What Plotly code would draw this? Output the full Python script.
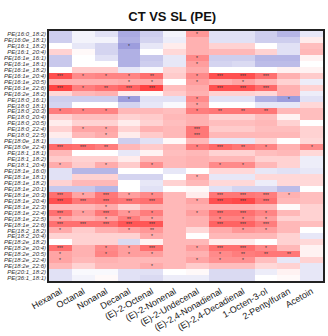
import plotly.graph_objects as go

# Volatile compounds (columns) and PE lipid species (rows)
compounds = ["Hexanal", "Octanal", "Nonanal", "Decanal", "(E)-2-Octenal",
             "(E)-2-Nonenal", "(E)-2-Undecenal", "(E)-2,4-Nonadienal",
             "(E)-2,4-Decadienal", "1-Octen-3-ol", "2-Pentylfuran", "Acetoin"]

lipids = ["PE(16:0_18:2)", "PE(16:0e_18:1)", "PE(16:1_18:2)", "PE(16:1_20:4)",
          "PE(16:1e_16:1)", "PE(16:1e_18:1)", "PE(16:1e_18:2)", "PE(16:1e_20:4)",
          "PE(16:1e_20:5)", "PE(16:1e_22:6)", "PE(16:2e_18:2)", "PE(18:0_16:1)",
          "PE(18:0_18:1)", "PE(18:0_20:3)", "PE(18:0_20:4)", "PE(18:0_20:5)",
          "PE(18:0_22:4)", "PE(18:0_22:5)", "PE(18:0e_18:1)", "PE(18:0e_22:4)",
          "PE(18:1_18:1)", "PE(18:1_18:2)", "PE(18:1_20:4)", "PE(18:1e_16:0)",
          "PE(18:1e_18:1)", "PE(18:1e_18:2)", "PE(18:1e_20:1)", "PE(18:1e_20:3)",
          "PE(18:1e_20:4)", "PE(18:1e_22:3)", "PE(18:1e_22:4)", "PE(18:1e_22:5)",
          "PE(18:1e_22:6)", "PE(18:2_18:2)", "PE(18:2_20:4)", "PE(18:2e_18:2)",
          "PE(18:2e_20:4)", "PE(18:2e_20:5)", "PE(18:2e_22:4)", "PE(18:2e_22:6)",
          "PE(20:1_18:2)", "PE(36:1_18:1)"]

# Correlation coefficients, one row per lipid
corr = [
    [-0.40, -0.10, -0.25, -0.70, -0.40, -0.10, 0.80, -0.25, -0.25, -0.40, -0.60, -0.20],
    [-0.40, -0.10, -0.10, -0.65, -0.35, -0.15, 0.60, -0.25, -0.25, -0.40, -0.40, 0.15],
    [0.00, -0.20, -0.35, -0.80, -0.20, 0.15, 0.60, 0.35, 0.35, 0.00, -0.25, 0.50],
    [0.35, 0.05, -0.35, -0.65, 0.00, 0.30, 0.60, 0.55, 0.55, 0.35, -0.25, 0.55],
    [-0.45, 0.00, -0.25, -0.65, -0.45, -0.20, 0.90, -0.40, -0.40, -0.60, -0.60, 0.10],
    [-0.45, 0.00, 0.00, -0.65, -0.40, -0.20, 0.75, -0.35, -0.30, -0.55, -0.55, 0.00],
    [0.00, 0.40, 0.40, -0.20, -0.05, 0.35, 0.65, 0.00, 0.00, 0.00, 0.10, 0.10],
    [1.35, 0.90, 0.95, 0.95, 1.10, 0.40, 0.90, 1.35, 1.35, 1.10, 0.60, 0.40],
    [0.60, 0.60, 0.60, 0.65, 0.65, 0.00, 0.75, 0.60, 0.70, 0.55, 0.35, -0.15],
    [1.45, 1.00, 1.10, 1.20, 1.45, 0.50, 0.65, 1.35, 1.35, 1.15, 0.60, 0.35],
    [0.30, 0.55, 0.60, 0.15, 0.05, 0.40, 0.60, 0.35, 0.35, 0.30, 0.60, -0.15],
    [-0.40, -0.40, -0.40, -0.80, -0.25, -0.25, 0.90, -0.25, -0.25, -0.65, -0.80, -0.25],
    [-0.35, 0.00, 0.00, -0.35, -0.20, -0.05, 0.75, 0.00, 0.00, -0.20, -0.20, 0.30],
    [1.00, 0.95, 0.95, 0.55, 0.55, 0.50, 1.00, 1.05, 1.05, 1.05, 0.55, 0.50],
    [0.35, 0.50, 0.50, 0.35, 0.40, 0.55, 0.60, 0.35, 0.35, 0.50, 0.10, 0.50],
    [0.15, 0.35, 0.35, 0.15, 0.35, 0.50, 0.60, 0.50, 0.50, 0.55, 0.35, 0.00],
    [0.35, 0.70, 0.70, 0.35, 0.60, 0.55, 1.05, 0.40, 0.40, 0.50, 0.50, 0.35],
    [0.15, 0.55, 0.65, 0.15, 0.40, 0.55, 1.05, 0.55, 0.55, 0.55, 0.55, 0.35],
    [-0.20, 0.00, 0.00, -0.40, -0.25, 0.05, 0.55, -0.20, -0.20, 0.30, 0.00, 0.30],
    [1.15, 1.10, 1.00, 0.55, 0.40, 0.55, 1.00, 1.15, 1.05, 0.95, 0.60, 0.90],
    [0.55, 0.00, 0.00, -0.20, 0.10, 0.50, 0.55, 0.35, 0.35, 0.50, 0.55, 0.30],
    [0.40, 0.35, 0.35, 0.15, 0.55, 0.55, 0.60, 0.55, 0.55, 0.35, 0.35, -0.15],
    [0.65, 0.40, 0.65, 0.40, 0.85, 0.55, 0.60, 0.90, 0.90, 0.55, 0.35, -0.15],
    [-0.25, -0.60, -0.60, 0.00, 0.00, -0.20, 0.00, 0.30, 0.30, -0.20, -0.25, -0.20],
    [-0.25, 0.35, 0.35, -0.35, -0.35, 0.00, 0.65, -0.20, -0.20, 0.30, 0.30, 0.30],
    [0.35, 0.55, 0.55, 0.00, -0.20, 0.35, 0.55, 0.30, 0.30, -0.15, 0.30, 0.30],
    [-0.45, -0.45, -0.60, 0.00, -0.25, 0.00, 0.05, -0.25, -0.35, -0.35, -0.55, 0.00],
    [1.10, 0.70, 1.05, 0.75, 0.90, 0.55, 0.15, 1.05, 1.05, 1.00, 0.60, 0.50],
    [1.35, 1.05, 1.10, 1.05, 1.10, 0.55, 0.70, 1.35, 1.40, 1.10, 0.55, 0.50],
    [0.55, 0.55, 0.65, 0.35, 0.60, 0.55, 0.60, 0.60, 0.60, 0.55, 0.05, 0.35],
    [1.10, 0.75, 1.05, 0.80, 1.00, 0.55, 0.75, 1.10, 1.10, 0.95, 0.55, 0.35],
    [0.70, 0.60, 0.70, 1.00, 0.75, 0.55, 0.60, 0.95, 0.95, 0.75, 0.35, 0.35],
    [1.10, 1.10, 1.10, 1.30, 1.30, 0.55, 0.60, 1.20, 1.20, 1.00, 0.55, 0.50],
    [0.65, 0.40, 0.60, 0.70, 0.80, 0.55, 0.30, 0.65, 0.80, 0.75, 0.55, 0.00],
    [0.35, 0.35, 0.35, 0.35, 0.65, 0.55, 0.00, 0.55, 0.55, 0.55, 0.35, -0.20],
    [0.00, 0.35, 0.35, -0.30, 0.10, 0.55, 0.55, 0.15, 0.15, 0.00, 0.35, 0.30],
    [1.10, 0.60, 0.90, 0.75, 1.10, 0.55, 0.75, 1.10, 1.10, 0.90, 0.55, 0.10],
    [0.70, 0.60, 0.95, 0.75, 0.75, 0.55, 0.60, 0.90, 1.00, 1.05, 1.05, 0.10],
    [0.70, 0.55, 0.60, 0.55, 0.55, 0.55, 0.70, 0.85, 0.85, 0.50, -0.20, 0.35],
    [0.55, 0.35, 0.55, 0.55, 0.65, 0.55, 0.40, 0.50, 0.50, 0.30, 0.35, -0.20],
    [-0.25, -0.05, -0.05, -0.25, -0.25, 0.00, 0.05, -0.30, -0.30, -0.15, 0.10, -0.20],
    [-0.25, -0.10, 0.05, -0.25, -0.30, -0.15, -0.15, -0.30, -0.30, 0.00, 0.05, -0.20],
]

# Significance marks per cell
sig = [
    ["", "", "", "", "", "", "*", "", "", "", "", ""],
    ["", "", "", "", "", "", "", "", "", "", "", ""],
    ["", "", "", "*", "", "", "", "", "", "", "", ""],
    ["", "", "", "", "", "", "", "", "", "", "", ""],
    ["", "", "", "", "", "", "*", "", "", "", "", ""],
    ["", "", "", "", "", "", "*", "", "", "", "", ""],
    ["", "", "", "", "", "", "", "", "", "", "", ""],
    ["***", "*", "*", "*", "**", "", "*", "***", "***", "***", "", ""],
    ["", "", "", "*", "*", "", "*", "", "*", "", "", ""],
    ["***", "*", "**", "***", "***", "", "", "***", "***", "***", "", ""],
    ["", "", "", "", "", "", "", "", "", "", "", ""],
    ["", "", "", "*", "", "", "*", "", "", "", "*", ""],
    ["", "", "", "", "", "", "*", "", "", "", "", ""],
    ["*", "*", "*", "", "", "", "*", "**", "**", "**", "", ""],
    ["", "", "", "", "", "", "", "", "", "", "", ""],
    ["", "", "", "", "", "", "", "", "", "", "", ""],
    ["", "*", "*", "", "", "", "***", "", "", "", "", ""],
    ["", "", "*", "", "", "", "***", "", "", "", "", ""],
    ["", "", "", "", "", "", "", "", "", "", "", ""],
    ["***", "***", "**", "", "", "", "*", "***", "**", "*", "", "*"],
    ["", "", "", "", "", "", "", "", "", "", "", ""],
    ["", "", "", "", "", "", "", "", "", "", "", ""],
    ["*", "", "*", "", "*", "", "", "*", "*", "", "", ""],
    ["", "", "", "", "", "", "", "", "", "", "", ""],
    ["", "", "", "", "", "", "*", "", "", "", "", ""],
    ["", "", "", "", "", "", "", "", "", "", "", ""],
    ["", "", "", "", "", "", "", "", "", "", "", ""],
    ["***", "*", "***", "*", "*", "", "", "***", "***", "***", "*", ""],
    ["***", "***", "***", "***", "***", "", "*", "***", "***", "***", "", ""],
    ["", "", "*", "", "", "", "", "", "", "", "", ""],
    ["***", "*", "***", "*", "*", "", "*", "***", "***", "*", "", ""],
    ["*", "", "*", "**", "*", "", "", "*", "*", "*", "", ""],
    ["***", "***", "***", "***", "***", "", "", "***", "***", "***", "", ""],
    ["*", "", "", "*", "**", "", "", "", "*", "*", "", ""],
    ["", "", "", "", "*", "", "", "", "", "", "", ""],
    ["", "", "", "", "", "", "", "", "", "", "", ""],
    ["***", "", "*", "*", "***", "", "*", "***", "***", "*", "", ""],
    ["*", "", "*", "*", "*", "", "", "*", "**", "**", "**", ""],
    ["*", "", "", "", "", "", "*", "*", "*", "", "", ""],
    ["", "", "", "", "*", "", "", "", "", "", "", ""],
    ["", "", "", "", "", "", "", "", "", "", "", ""],
    ["", "", "", "", "", "", "", "", "", "", "", ""],
]

fig = go.Figure(
    go.Heatmap(
        z=corr,
        x=compounds,
        y=lipids,
        text=sig,
        texttemplate="%{text}",
        textfont=dict(size=5, color="#333333", family="Liberation Sans"),
        colorscale=[[0.0, "#4848c0"], [0.5, "#ffffff"], [1.0, "#ff3c3c"]],
        zmin=-1.5,
        zmax=1.5,
        showscale=False,
        xgap=0,
        ygap=0,
    )
)

fig.update_layout(
    width=328,
    height=336,
    margin=dict(l=49, r=3, t=31, b=42),
    paper_bgcolor="white",
    plot_bgcolor="white",
    title=dict(
        text="<b>CT VS SL (PE)</b>",
        x=0.525,
        xref="container",
        xanchor="center",
        y=0.95,
        yref="container",
        yanchor="middle",
        font=dict(size=13, color="#111111", family="Liberation Sans"),
    ),
    font=dict(family="Liberation Sans", color="#222222"),
)

fig.update_xaxes(
    tickangle=-30,
    tickfont=dict(size=9, color="#222222"),
    showline=True,
    linecolor="#222222",
    linewidth=1.5,
    mirror=True,
    ticks="",
    showgrid=False,
)
fig.update_yaxes(
    autorange="reversed",
    tickmode="array",
    tickvals=lipids,
    ticktext=lipids,
    tickfont=dict(size=6, style="italic", color="#333333"),
    showline=True,
    linecolor="#222222",
    linewidth=1.5,
    mirror=True,
    ticks="",
    showgrid=False,
)

fig.write_html("out.html")
